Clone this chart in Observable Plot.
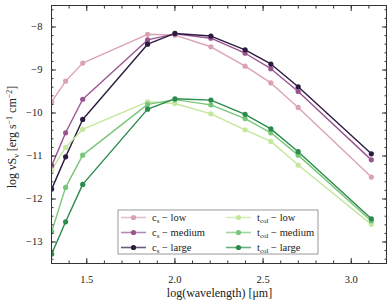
<!DOCTYPE html>
<html>
<head>
<meta charset="utf-8">
<script src="https://cdn.jsdelivr.net/npm/d3@7"></script>
<script src="https://cdn.jsdelivr.net/npm/@observablehq/plot@0.6"></script>
<style>
  html, body { margin: 0; padding: 0; background: #fff; }
  #chart { width: 391px; height: 305px; }
  svg text { font-family: "Liberation Serif", "DejaVu Serif", serif; }
</style>
</head>
<body>
<div id="chart"></div>
<script>
const logWavelength = [1.301, 1.380, 1.477, 1.845, 2.0, 2.204, 2.398, 2.544, 2.699, 3.114];
const csLow      = [-9.74, -9.26, -8.84, -8.17, -8.19, -8.46, -8.91, -9.30, -9.87, -11.49];
const csMedium   = [-11.23, -10.46, -9.68, -8.30, -8.16, -8.26, -8.61, -8.97, -9.50, -11.09];
const csLarge    = [-11.77, -11.02, -10.15, -8.40, -8.15, -8.21, -8.53, -8.86, -9.39, -10.95];
const tcolLow    = [-11.32, -10.80, -10.38, -9.74, -9.78, -10.02, -10.39, -10.66, -11.21, -12.59];
const tcolMedium = [-12.76, -11.73, -10.98, -9.80, -9.69, -9.81, -10.13, -10.46, -10.98, -12.51];
const tcolLarge  = [-13.28, -12.53, -11.66, -9.91, -9.67, -9.70, -10.03, -10.37, -10.90, -12.46];

const seriesKeys = ["cs-low", "cs-medium", "cs-large", "tcol-low", "tcol-medium", "tcol-large"];
const seriesColors = ["#dba2b4", "#9a5590", "#2c1a40", "#c4e79c", "#78c679", "#2a8b4b"];
const seriesValues = [csLow, csMedium, csLarge, tcolLow, tcolMedium, tcolLarge];
const legendBase = ["c", "c", "c", "t", "t", "t"];
const legendSub = ["s", "s", "s", "col", "col", "col"];
const legendLevel = ["low", "medium", "large", "low", "medium", "large"];

const xMajor = [1.5, 2.0, 2.5, 3.0];
const xMinor = d3.range(13, 33).map(d => d / 10);
const yMajor = [-13, -12, -11, -10, -9, -8];
const yMinor = d3.range(-67, -37).map(d => d / 5);

const rows = [];
seriesKeys.forEach((k, i) => {
  logWavelength.forEach((x, j) => rows.push({series: k, x, y: seriesValues[i][j]}));
});

const noText = () => "";
const axisColor = "#333";

const plot = Plot.plot({
  width: 391,
  height: 305,
  marginLeft: 51,
  marginRight: 5,
  marginTop: 5,
  marginBottom: 42,
  style: {fontFamily: "Liberation Serif, serif", fontSize: "10.5px", color: "#222", background: "#fff"},
  x: {domain: [1.3, 3.2]},
  y: {domain: [-13.5, -7.5]},
  color: {domain: seriesKeys, range: seriesColors},
  marks: [
    Plot.line(rows, {x: "x", y: "y", z: "series", stroke: "series", strokeWidth: 1.4, clip: true}),
    Plot.dot(rows, {x: "x", y: "y", fill: "series", r: 2.6, clip: true}),
    Plot.frame({stroke: axisColor, strokeWidth: 1}),
    // inward major/minor ticks, all four sides
    Plot.axisX({anchor: "bottom", ticks: xMajor, tickSize: -5, tickFormat: noText, label: null, stroke: axisColor}),
    Plot.axisX({anchor: "bottom", ticks: xMinor, tickSize: -2.5, tickFormat: noText, label: null, stroke: axisColor}),
    Plot.axisX({anchor: "top", ticks: xMajor, tickSize: -5, tickFormat: noText, label: null, stroke: axisColor}),
    Plot.axisX({anchor: "top", ticks: xMinor, tickSize: -2.5, tickFormat: noText, label: null, stroke: axisColor}),
    Plot.axisY({anchor: "left", ticks: yMajor, tickSize: -5, tickFormat: noText, label: null, stroke: axisColor}),
    Plot.axisY({anchor: "left", ticks: yMinor, tickSize: -2.5, tickFormat: noText, label: null, stroke: axisColor}),
    Plot.axisY({anchor: "right", ticks: yMajor, tickSize: -5, tickFormat: noText, label: null, stroke: axisColor}),
    Plot.axisY({anchor: "right", ticks: yMinor, tickSize: -2.5, tickFormat: noText, label: null, stroke: axisColor}),
    // labels
    Plot.axisX({anchor: "bottom", ticks: xMajor, tickSize: 0, tickPadding: 12, tickFormat: d3.format(".1f"), label: null}),
    Plot.axisY({anchor: "left", ticks: yMajor, tickSize: 0, tickPadding: 9, tickFormat: d => "\u2212" + Math.abs(d), label: null})
  ]
});

document.getElementById("chart").appendChild(plot);

const svg = d3.select(plot);
const color = plot.scale("color");
const xs = plot.scale("x"), ys = plot.scale("y");
const plotLeft = xs.range[0], plotRight = xs.range[1];
const plotTop = ys.range[1], plotBottom = ys.range[0];

// x-axis label
svg.append("text")
  .attr("x", (plotLeft + plotRight) / 2 + 1)
  .attr("y", 297)
  .attr("text-anchor", "middle")
  .attr("font-size", 12)
  .attr("fill", "#222")
  .text("log(wavelength) [\u03bcm]");

// y-axis label
const yl = svg.append("text")
  .attr("transform", `translate(16,${(plotTop + plotBottom) / 2 + 3}) rotate(-90)`)
  .attr("text-anchor", "middle")
  .attr("font-size", 12)
  .attr("fill", "#222");
yl.append("tspan").text("log \u03bdS");
yl.append("tspan").attr("dy", 2.5).attr("font-size", 8).text("\u03bd");
yl.append("tspan").attr("dy", -2.5).text(" [erg s");
yl.append("tspan").attr("dy", -4.5).attr("font-size", 8).text("\u22121");
yl.append("tspan").attr("dy", 4.5).text(" cm");
yl.append("tspan").attr("dy", -4.5).attr("font-size", 8).text("\u22122");
yl.append("tspan").attr("dy", 4.5).text("]");

// legend
const lg = svg.append("g").attr("text-anchor", "start");
const boxX = 118, boxY = 210, boxW = 200, boxH = 44;
lg.append("rect").attr("x", boxX).attr("y", boxY).attr("width", boxW).attr("height", boxH)
  .attr("fill", "#fff").attr("stroke", "#999").attr("stroke-width", 1);
seriesKeys.forEach((k, i) => {
  const col = Math.floor(i / 3), row = i % 3;
  const x0 = boxX + 3 + col * 105;
  const y0 = boxY + 7.5 + row * 15;
  lg.append("line").attr("x1", x0).attr("x2", x0 + 25).attr("y1", y0).attr("y2", y0)
    .attr("stroke", color.apply(k)).attr("stroke-width", 1.6).attr("stroke-opacity", 0.7);
  lg.append("circle").attr("cx", x0 + 12.5).attr("cy", y0).attr("r", 2.6).attr("fill", color.apply(k));
  const t = lg.append("text").attr("x", x0 + 31).attr("y", y0 + 3.5)
    .attr("text-anchor", "start").attr("font-size", 10.5).attr("fill", "#222");
  t.append("tspan").text(legendBase[i]);
  t.append("tspan").attr("dy", 2).attr("font-size", 7).text(legendSub[i]);
  t.append("tspan").attr("dy", -2).text(" \u2212 " + legendLevel[i]);
});
</script>
</body>
</html>
